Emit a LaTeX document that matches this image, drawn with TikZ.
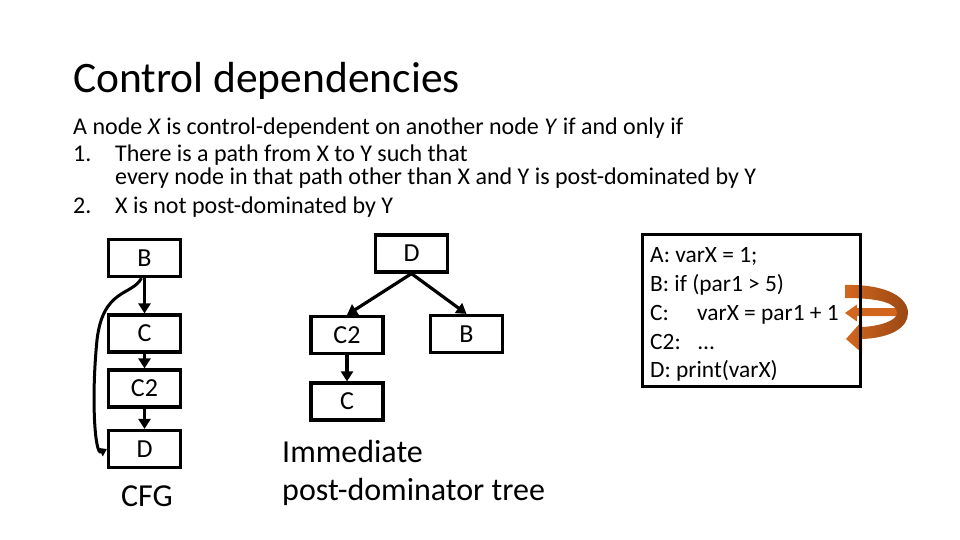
\documentclass[tikz,border=0pt]{standalone}
\usepackage{fontspec}
\setmainfont{Carlito}
\usetikzlibrary{arrows.meta}
\definecolor{orng}{HTML}{D2661E}
\definecolor{orngdark}{HTML}{9A4814}
\tikzset{
  box/.style={draw, line width=3.2pt, minimum width=72pt, minimum height=37pt, inner sep=0pt, font=\fontsize{26}{30}\selectfont},
  arr/.style={line width=3.2pt, -{Triangle[width=12pt,length=10pt]}},
  txt/.style={anchor=base west, inner sep=0pt},
  body/.style={font=\fontsize{24}{28}\selectfont},
  code/.style={font=\fontsize{23.4}{28}\selectfont},
}
\begin{document}
\begin{tikzpicture}[x=1pt,y=-1pt]
\useasboundingbox (0,0) rectangle (960,540);
% title
\node[txt, font=\fontsize{43.5}{50}\selectfont] (title) at (73,93) {Control dependencies};
% body text
\node[txt, body] (l1) at (73,135) {A node \textit{X} is control-dependent on another node \textit{Y} if and only if};
\node[txt, body] (n1) at (73,162) {1.};
\node[txt, body] (l2) at (115,162) {There is a path from X to Y such that};
\node[txt, body] (l3) at (115,184.5) {every node in that path other than X and Y is post-dominated by Y};
\node[txt, body] (n2) at (73,213) {2.};
\node[txt, body] (l4) at (115,213) {X is not post-dominated by Y};
% CFG
\node[box] (cB) at (144.5,258) {B};
\node[box] (cC) at (144.5,333.5) {C};
\node[box] (cC2) at (144.5,388.5) {C2};
\node[box] (cD) at (144.5,449) {D};
\draw[arr] (cB) -- (cC);
\draw[arr] (cC) -- (cC2);
\draw[arr] (cC2) -- (cD);
\coordinate (cv1) at (97,340);
\draw[line width=3pt, -{Triangle[width=9pt,length=7pt]}] ([xshift=-3pt]cB.south) .. controls (132,296) and (103,288) .. (cv1) .. controls (91,400) and (95,455) .. (cD.west);
\node[font=\fontsize{32}{36}\selectfont] (cfg) at (147,496) {CFG};
% post-dominator tree
\node[box] (tD) at (411.5,253.5) {D};
\node[box] (tC2) at (347,335) {C2};
\node[box] (tB) at (466.5,334) {B};
\node[box] (tC) at (347,401.5) {C};
\draw[arr] (tD.south) -- (tC2.north);
\draw[arr] (tD.south) -- (tB.north);
\draw[arr] (tC2) -- (tC);
\node[txt, font=\fontsize{32}{36}\selectfont] (im1) at (282,462) {Immediate};
\node[txt, font=\fontsize{32}{36}\selectfont] (im2) at (282,500) {post-dominator tree};
% orange arrows
\fill[orng] (898,308) -- (857,308) -- (857,304.5) -- (845,313) -- (857,321.5) -- (857,316) -- (898,316) -- cycle;
\shade[left color=orng, right color=orngdark] (845,285) .. controls (888,284) and (908,298) .. (908,313) .. controls (908,328) and (890,338) .. (862,339) -- (862,353) -- (846,339) -- (862,321) -- (862,327) .. controls (882,326) and (897,320) .. (897,313) .. controls (897,304) and (882,298) .. (845,298) -- cycle;
% code box
\node[draw, line width=3.8pt, minimum width=218pt, minimum height=152pt, inner sep=0pt] (code) at (751.5,310.5) {};
\node[txt, code] (s1) at (650,262) {A: varX = 1;};
\node[txt, code] (s2) at (650,291) {B: if (par1 > 5)};
\node[txt, code] (s3) at (650,320) {C:};
\node[txt, code] (s3b) at (697,320) {varX = par1 + 1};
\node[txt, code] (s4) at (650,349) {C2:};
\node[txt, code] (s4b) at (698,349) {…};
\node[txt, code] (s5) at (650,377) {D: print(varX)};
\end{tikzpicture}
\end{document}
